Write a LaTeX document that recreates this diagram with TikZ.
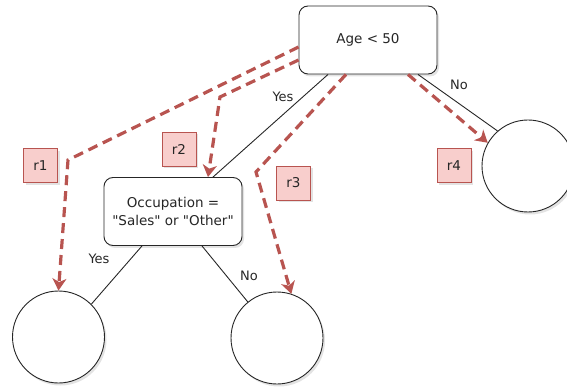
\documentclass[tikz,border=0pt]{standalone}
\usepackage{fontspec}
\setmainfont{DejaVu Sans}
\newfontfamily\plaindv{DejaVu Sans}
\usetikzlibrary{arrows.meta,shadows}
\definecolor{rstroke}{HTML}{B85450}
\definecolor{rfill}{HTML}{F8CECC}
\definecolor{txt}{HTML}{262626}
\newcommand{\dq}{{\plaindv\symbol{34}}}
\tikzset{
  shd/.style={drop shadow={shadow xshift=2pt,shadow yshift=-2.5pt,opacity=0.18,fill=black!60}},
  testbox/.style={draw=black!85,fill=white,rounded corners=9pt,minimum width=138pt,minimum height=68pt,
    align=center,inner sep=0pt,font=\fontsize{13.5}{17.5}\selectfont,text=txt,shd,line width=0.9pt},
  leaf/.style={circle,draw=black!85,fill=white,minimum size=92pt,inner sep=0pt,shd,line width=0.9pt},
  rlabel/.style={draw=rstroke,fill=rfill,minimum size=34pt,inner sep=0pt,text=txt,
    font=\fontsize{13.5}{15}\selectfont,shd,line width=0.8pt},
  edge/.style={draw=black!85,line width=0.9pt},
  elabel/.style={text=txt,font=\fontsize{13}{15}\selectfont,inner sep=0pt},
  redarrow/.style={draw=rstroke,line width=3.2pt,dash pattern=on 10pt off 6pt,
    -{Stealth[length=12pt,width=14pt,inset=3.5pt]}}
}
\begin{document}
\begin{tikzpicture}[x=1pt,y=-1pt]
\useasboundingbox (0,0) rectangle (567,387);
\node[testbox] (root) at (368,40) {Age < 50};
\node[testbox] (occ) at (173,211.5) {Occupation =\\\dq Sales\dq{} or \dq Other\dq};
\node[leaf] (L) at (58.5,337) {};
\node[leaf] (M) at (277,338) {};
\node[leaf] (R) at (528,166) {};
% tree edges
\draw[edge] ([xshift=-40pt]root.south) -- ([xshift=40pt]occ.north);
\draw[edge] ([xshift=50pt]root.south) -- (R.131);
\draw[edge] ([xshift=-31pt]occ.south) -- (L.45);
\draw[edge] ([xshift=29pt]occ.south) -- (M.129);
\node[elabel] (y1) at (283,97) {Yes};
\node[elabel] (n1) at (459,85) {No};
\node[elabel] (y2) at (99,259) {Yes};
\node[elabel] (n2) at (249,276) {No};
% red paths
\draw[redarrow] ([yshift=-7pt]root.west) -- (68,160) -- (L.north);
\draw[redarrow] ([yshift=-20pt]root.west) -- (220,97) -- ([xshift=35pt]occ.north);
\draw[redarrow] ([xshift=-22pt]root.south) -- (256,172) -- (M.72);
\draw[redarrow] ([xshift=40pt]root.south) -- (R.150);
% labels
\node[rlabel] (r1) at (40.5,165.5) {r1};
\node[rlabel] (r2) at (179,149) {r2};
\node[rlabel] (r3) at (293.5,183) {r3};
\node[rlabel] (r4) at (454,165.5) {r4};
\end{tikzpicture}
\end{document}
